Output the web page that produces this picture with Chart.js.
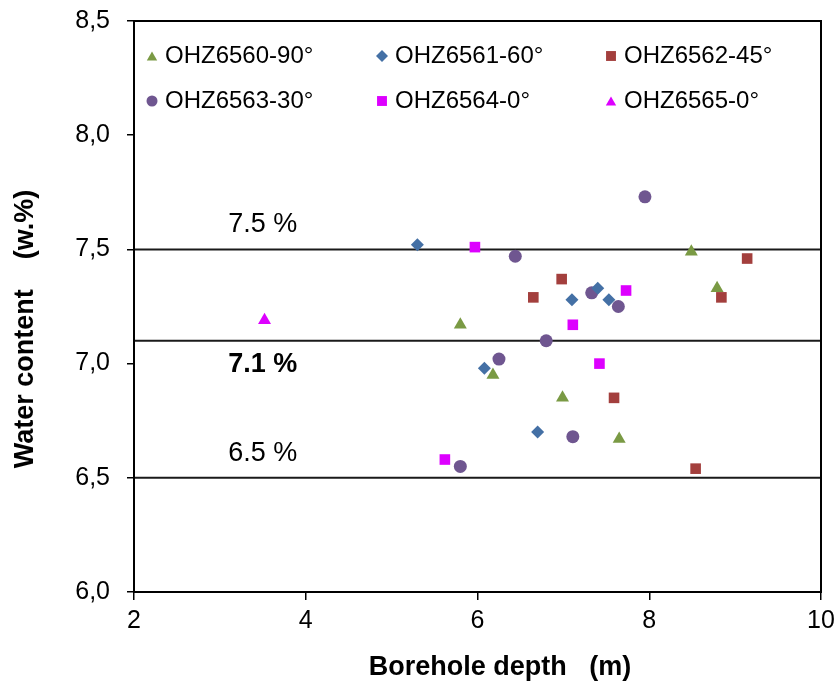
<!DOCTYPE html>
<html>
<head>
<meta charset="utf-8">
<script src="https://cdn.jsdelivr.net/npm/chart.js@4/dist/chart.umd.min.js"></script>
<style>
  html, body { margin: 0; padding: 0; background: #fff; }
  #wrap { width: 838px; height: 684px; }
</style>
</head>
<body>
<div id="wrap"><canvas id="c" width="838" height="684"></canvas></div>
<script>
// series names
const seriesNames = ['OHZ6560-90°', 'OHZ6561-60°', 'OHZ6562-45°', 'OHZ6563-30°', 'OHZ6564-0°', 'OHZ6565-0°']

// borehole depth (m) / water content (w.%) per borehole
const depth6560 = [5.80, 6.18, 6.99, 7.65, 8.49, 8.79]
const water6560 = [7.17, 6.95, 6.85, 6.67, 7.49, 7.33]

const depth6561 = [5.30, 6.08, 6.70, 7.10, 7.40, 7.53]
const water6561 = [7.52, 6.98, 6.70, 7.28, 7.33, 7.28]

const depth6562 = [6.65, 6.98, 7.59, 8.54, 8.84, 9.14]
const water6562 = [7.29, 7.37, 6.85, 6.54, 7.29, 7.46]

const depth6563 = [5.80, 6.25, 6.44, 6.80, 7.11, 7.33, 7.64, 7.95]
const water6563 = [6.55, 7.02, 7.47, 7.10, 6.68, 7.31, 7.25, 7.73]

const depth6564 = [5.62, 5.97, 7.11, 7.42, 7.73]
const water6564 = [6.58, 7.51, 7.17, 7.00, 7.32]

const depth6565 = [3.52]
const water6565 = [7.19]

// reference levels
const refValues = [7.5, 7.1, 6.5]
const refLabels = ['7.5 %', '7.1 %', '6.5 %']

// axis ticks
const xTicks = [2, 4, 6, 8, 10]
const yTicks = [6.0, 6.5, 7.0, 7.5, 8.0, 8.5]

const FONT = '"Liberation Sans", Arial, sans-serif'

function pts(xs, ys) {
  return xs.map((x, i) => ({ x: x, y: ys[i] }))
}

const styles = [
  { color: '#7a9a44', shape: 'triangle', r: 7.5 },
  { color: '#4470a5', shape: 'rectRot', r: 6.5 },
  { color: '#a33f3d', shape: 'rect', r: 7.5 },
  { color: '#6f5690', shape: 'circle', r: 6.5 },
  { color: '#dd00ff', shape: 'rect', r: 7.5 },
  { color: '#dd00ff', shape: 'triangle', r: 7.5 },
]

const seriesData = [
  pts(depth6560, water6560),
  pts(depth6561, water6561),
  pts(depth6562, water6562),
  pts(depth6563, water6563),
  pts(depth6564, water6564),
  pts(depth6565, water6565),
]

const datasets = seriesData.map((d, i) => ({
  type: 'scatter',
  label: seriesNames[i],
  data: d,
  pointStyle: styles[i].shape,
  pointRadius: styles[i].r,
  pointHoverRadius: styles[i].r,
  backgroundColor: styles[i].color,
  borderColor: styles[i].color,
  borderWidth: 0,
  order: 1
}))

refValues.forEach(v => {
  datasets.push({
    type: 'line',
    label: 'ref ' + v,
    data: [{ x: xTicks[0], y: v }, { x: xTicks[xTicks.length - 1], y: v }],
    borderColor: '#1a1a1a',
    borderWidth: 2,
    pointRadius: 0,
    fill: false,
    order: 10
  })
})

// marker for legend
function marker(ctx, shape, x, y, r) {
  ctx.beginPath()
  if (shape === 'circle') {
    ctx.arc(x, y, r, 0, Math.PI * 2)
  } else if (shape === 'rect') {
    ctx.rect(x - r * 0.707, y - r * 0.707, r * 1.414, r * 1.414)
  } else if (shape === 'rectRot') {
    ctx.moveTo(x, y - r); ctx.lineTo(x + r, y); ctx.lineTo(x, y + r); ctx.lineTo(x - r, y)
  } else if (shape === 'triangle') {
    ctx.moveTo(x, y - r); ctx.lineTo(x + r * 0.866, y + r * 0.5); ctx.lineTo(x - r * 0.866, y + r * 0.5)
  }
  ctx.closePath()
  ctx.fill()
}

const decor = {
  id: 'decor',
  afterDatasetsDraw(chart) {
    const { ctx, chartArea: a, scales } = chart
    ctx.save()
    // frame
    ctx.strokeStyle = '#000'
    ctx.lineWidth = 2
    ctx.strokeRect(a.left, a.top, a.right - a.left, a.bottom - a.top)

    // reference labels
    ctx.fillStyle = '#000'
    ctx.textAlign = 'center'
    ctx.textBaseline = 'middle'
    const lx = scales.x.getPixelForValue(3.5)
    const offs = [-25, 24, -24]
    refValues.forEach((v, i) => {
      ctx.font = (i === 1 ? 'bold ' : '') + '27px ' + FONT
      ctx.fillText(refLabels[i], lx, scales.y.getPixelForValue(v) + offs[i])
    })

    // legend, 3 columns x 2 rows
    ctx.font = '24px ' + FONT
    ctx.textAlign = 'left'
    const colX = [152, 382, 611]
    const rowY = [56, 101]
    seriesNames.forEach((name, i) => {
      const cx = colX[i % 3], cy = rowY[Math.floor(i / 3)]
      ctx.fillStyle = styles[i].color
      const s = styles[i].shape
      marker(ctx, s, cx, cy + (s === 'triangle' ? 1.5 : 0), s === 'circle' ? 5.5 : s === 'rect' ? 7 : 6)
      ctx.fillStyle = '#000'
      ctx.fillText(name, cx + 13, cy)
    })
    ctx.restore()
  }
}

new Chart(document.getElementById('c'), {
  data: { datasets: datasets },
  options: {
    responsive: false,
    animation: false,
    layout: { padding: { left: 0, right: 17, top: 21, bottom: 0 } },
    plugins: {
      legend: { display: false },
      tooltip: { enabled: false }
    },
    scales: {
      x: {
        type: 'linear',
        min: xTicks[0],
        max: xTicks[xTicks.length - 1],
        afterBuildTicks: s => { s.ticks = xTicks.map(v => ({ value: v })) },
        grid: { drawOnChartArea: false, drawTicks: true, tickLength: 8, color: '#000', lineWidth: 1.5 },
        border: { display: true, color: '#000', width: 2 },
        ticks: { color: '#000', font: { family: FONT, size: 25 }, padding: 6 },
        title: {
          display: true,
          text: '\u00a0\u00a0\u00a0\u00a0\u00a0\u00a0Borehole depth\u00a0\u00a0\u00a0(m)',
          color: '#000',
          font: { family: FONT, size: 27, weight: 'bold' },
          padding: { top: 7, bottom: 0 }
        },
        afterFit: s => { s.height = 92; s.paddingLeft = 0; s.paddingRight = 0 }
      },
      y: {
        type: 'linear',
        min: yTicks[0],
        max: yTicks[yTicks.length - 1],
        afterBuildTicks: s => { s.ticks = yTicks.map(v => ({ value: v })) },
        grid: { drawOnChartArea: false, drawTicks: true, tickLength: 7, color: '#000', lineWidth: 1.5 },
        border: { display: true, color: '#000', width: 2 },
        ticks: {
          color: '#000',
          font: { family: FONT, size: 25 },
          padding: 17,
          callback: v => v.toFixed(1).replace('.', ',')
        },
        title: {
          display: true,
          text: 'Water content\u00a0\u00a0\u00a0\u00a0(w.%)\u00a0\u00a0\u00a0\u00a0\u00a0\u00a0',
          color: '#000',
          font: { family: FONT, size: 27, weight: 'bold' },
          padding: { top: 9, bottom: 0 }
        },
        afterFit: s => { s.width = 134; s.paddingTop = 0; s.paddingBottom = 0 }
      }
    }
  },
  plugins: [decor]
})
</script>
</body>
</html>
